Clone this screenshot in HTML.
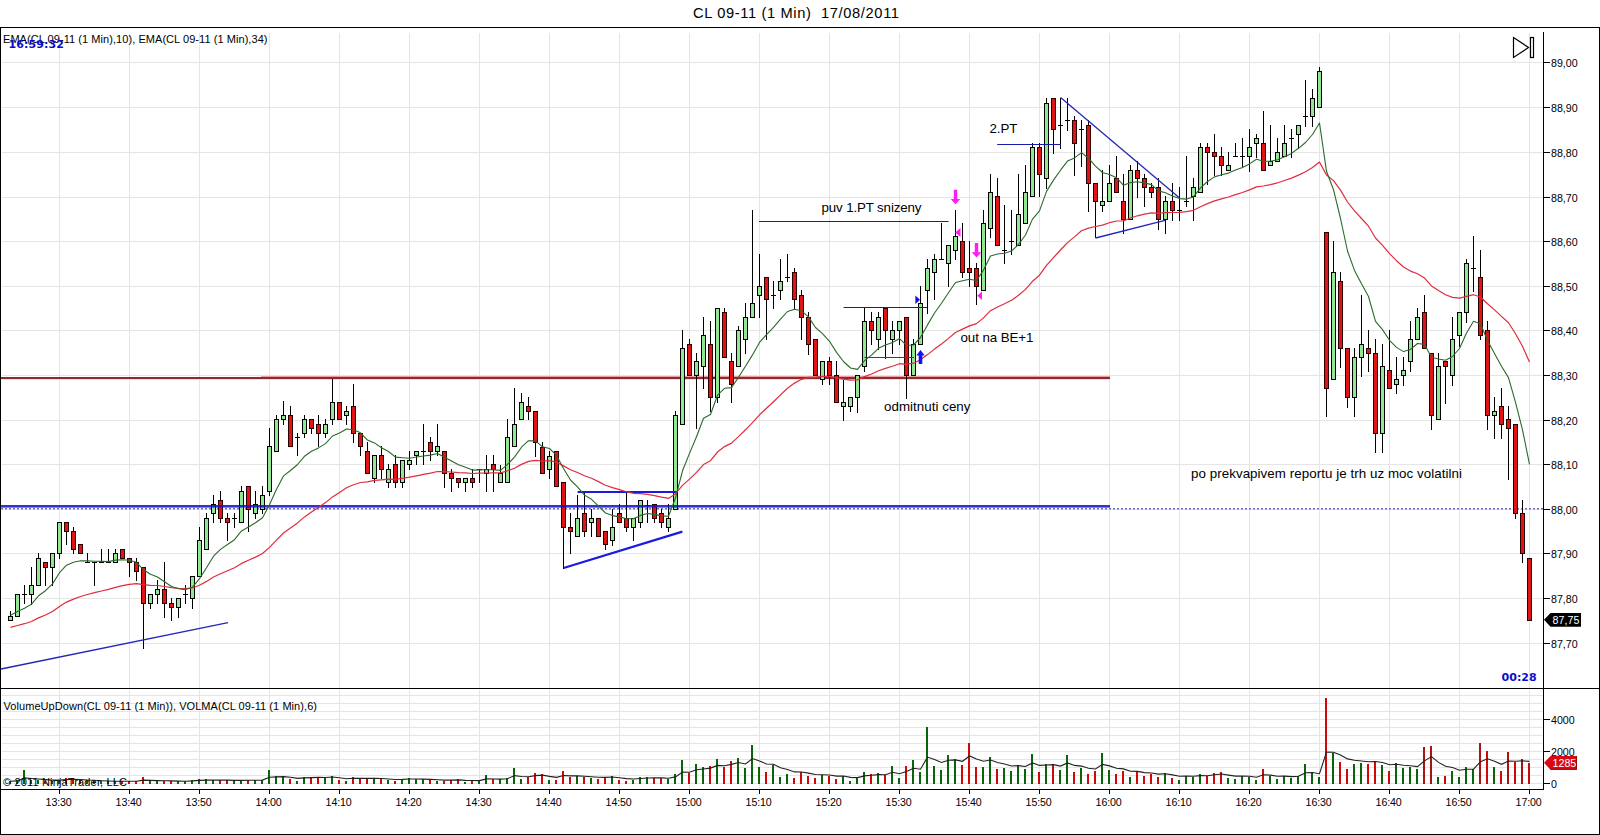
<!DOCTYPE html>
<html lang="cs"><head><meta charset="utf-8"><title>CL 09-11 (1 Min) 17/08/2011</title>
<style>
html,body{margin:0;padding:0;background:#fff;}
body{width:1600px;height:835px;overflow:hidden;}
svg{display:block;}
text{font-family:"Liberation Sans", Arial, sans-serif;fill:#000;}
.ax{font-size:10.67px;}
.lb{font-size:11px;}
.an{font-size:13.33px;}
.clk{font-family:"DejaVu Sans","Liberation Sans",sans-serif;font-weight:bold;font-size:11px;fill:#0b0bd0;}
.g{stroke:#e5e5e5;stroke-width:1;}
.cr{shape-rendering:crispEdges;}
</style></head><body>
<svg width="1600" height="835" viewBox="0 0 1600 835">
<rect x="0" y="0" width="1600" height="835" fill="#fff"/>

<text x="693" y="18.4" textLength="206" style="font-size:14.67px" xml:space="preserve">CL 09-11 (1 Min)  17/08/2011</text>
<g class="g cr">
<line x1="2" x2="1543.5" y1="62.5" y2="62.5"/>
<line x1="2" x2="1543.5" y1="107.5" y2="107.5"/>
<line x1="2" x2="1543.5" y1="152.5" y2="152.5"/>
<line x1="2" x2="1543.5" y1="197.5" y2="197.5"/>
<line x1="2" x2="1543.5" y1="241.5" y2="241.5"/>
<line x1="2" x2="1543.5" y1="286.5" y2="286.5"/>
<line x1="2" x2="1543.5" y1="330.5" y2="330.5"/>
<line x1="2" x2="1543.5" y1="375.5" y2="375.5"/>
<line x1="2" x2="1543.5" y1="420.5" y2="420.5"/>
<line x1="2" x2="1543.5" y1="464.5" y2="464.5"/>
<line x1="2" x2="1543.5" y1="509.5" y2="509.5"/>
<line x1="2" x2="1543.5" y1="553.5" y2="553.5"/>
<line x1="2" x2="1543.5" y1="598.5" y2="598.5"/>
<line x1="2" x2="1543.5" y1="643.5" y2="643.5"/>
<line x1="59.5" x2="59.5" y1="33" y2="688"/>
<line x1="59.5" x2="59.5" y1="690" y2="789"/>
<line x1="129.5" x2="129.5" y1="33" y2="688"/>
<line x1="129.5" x2="129.5" y1="690" y2="789"/>
<line x1="199.5" x2="199.5" y1="33" y2="688"/>
<line x1="199.5" x2="199.5" y1="690" y2="789"/>
<line x1="269.5" x2="269.5" y1="33" y2="688"/>
<line x1="269.5" x2="269.5" y1="690" y2="789"/>
<line x1="339.5" x2="339.5" y1="33" y2="688"/>
<line x1="339.5" x2="339.5" y1="690" y2="789"/>
<line x1="409.5" x2="409.5" y1="33" y2="688"/>
<line x1="409.5" x2="409.5" y1="690" y2="789"/>
<line x1="479.5" x2="479.5" y1="33" y2="688"/>
<line x1="479.5" x2="479.5" y1="690" y2="789"/>
<line x1="549.5" x2="549.5" y1="33" y2="688"/>
<line x1="549.5" x2="549.5" y1="690" y2="789"/>
<line x1="619.5" x2="619.5" y1="33" y2="688"/>
<line x1="619.5" x2="619.5" y1="690" y2="789"/>
<line x1="689.5" x2="689.5" y1="33" y2="688"/>
<line x1="689.5" x2="689.5" y1="690" y2="789"/>
<line x1="759.5" x2="759.5" y1="33" y2="688"/>
<line x1="759.5" x2="759.5" y1="690" y2="789"/>
<line x1="829.5" x2="829.5" y1="33" y2="688"/>
<line x1="829.5" x2="829.5" y1="690" y2="789"/>
<line x1="899.5" x2="899.5" y1="33" y2="688"/>
<line x1="899.5" x2="899.5" y1="690" y2="789"/>
<line x1="969.5" x2="969.5" y1="33" y2="688"/>
<line x1="969.5" x2="969.5" y1="690" y2="789"/>
<line x1="1039.5" x2="1039.5" y1="33" y2="688"/>
<line x1="1039.5" x2="1039.5" y1="690" y2="789"/>
<line x1="1109.5" x2="1109.5" y1="33" y2="688"/>
<line x1="1109.5" x2="1109.5" y1="690" y2="789"/>
<line x1="1179.5" x2="1179.5" y1="33" y2="688"/>
<line x1="1179.5" x2="1179.5" y1="690" y2="789"/>
<line x1="1249.5" x2="1249.5" y1="33" y2="688"/>
<line x1="1249.5" x2="1249.5" y1="690" y2="789"/>
<line x1="1319.5" x2="1319.5" y1="33" y2="688"/>
<line x1="1319.5" x2="1319.5" y1="690" y2="789"/>
<line x1="1389.5" x2="1389.5" y1="33" y2="688"/>
<line x1="1389.5" x2="1389.5" y1="690" y2="789"/>
<line x1="1459.5" x2="1459.5" y1="33" y2="688"/>
<line x1="1459.5" x2="1459.5" y1="690" y2="789"/>
<line x1="1529.5" x2="1529.5" y1="33" y2="688"/>
<line x1="1529.5" x2="1529.5" y1="690" y2="789"/>
<line x1="2" x2="1543.5" y1="783.5" y2="783.5"/>
<line x1="2" x2="1543.5" y1="775.5" y2="775.5"/>
<line x1="2" x2="1543.5" y1="767.5" y2="767.5"/>
<line x1="2" x2="1543.5" y1="759.5" y2="759.5"/>
<line x1="2" x2="1543.5" y1="751.5" y2="751.5"/>
<line x1="2" x2="1543.5" y1="743.5" y2="743.5"/>
<line x1="2" x2="1543.5" y1="735.5" y2="735.5"/>
<line x1="2" x2="1543.5" y1="727.5" y2="727.5"/>
<line x1="2" x2="1543.5" y1="719.5" y2="719.5"/>
<line x1="2" x2="1543.5" y1="711.5" y2="711.5"/>
<line x1="2" x2="1543.5" y1="703.5" y2="703.5"/>
<line x1="2" x2="1543.5" y1="695.5" y2="695.5"/>
</g>
<line x1="1" x2="1543.5" y1="508.75" y2="508.75" stroke="#6c6cc4" stroke-width="1.5" stroke-dasharray="2 2"/>
<g class="cr">
<rect x="1" y="377" width="1109" height="2" fill="#8c2a34"/>
<rect x="261" y="376" width="849" height="1" fill="#eaa0a0"/>
<rect x="1" y="379" width="1109" height="1" fill="#f3d6d6"/>
</g>
<text x="3" y="43" class="lb" textLength="264.5">EMA(CL 09-11 (1 Min),10), EMA(CL 09-11 (1 Min),34)</text>
<text x="8.5" y="47.5" class="clk" textLength="55.5">16:59:32</text>
<text x="1501.5" y="680.5" class="clk" textLength="35.2">00:28</text>
<g class="cr" stroke="#000" stroke-width="1">
<line x1="10.5" x2="10.5" y1="611" y2="616.5"/>
<rect x="8.5" y="616.5" width="4" height="4.0" fill="#92e892"/>
<rect x="15.5" y="594.5" width="4" height="22.0" fill="#92e892"/>
<line x1="24.5" x2="24.5" y1="585" y2="604"/>
<line x1="22.0" x2="27.0" y1="594.5" y2="594.5"/>
<line x1="31.5" x2="31.5" y1="567" y2="585.5"/>
<line x1="31.5" x2="31.5" y1="594.5" y2="605"/>
<rect x="29.5" y="585.5" width="4" height="9.0" fill="#92e892"/>
<line x1="38.5" x2="38.5" y1="553" y2="558.5"/>
<rect x="36.5" y="558.5" width="4" height="27.0" fill="#92e892"/>
<line x1="45.5" x2="45.5" y1="567.5" y2="586"/>
<rect x="43.5" y="562.5" width="4" height="5.0" fill="#e01414" stroke="#2a0000"/>
<line x1="52.5" x2="52.5" y1="567.5" y2="586"/>
<rect x="50.5" y="553.5" width="4" height="14.0" fill="#92e892"/>
<line x1="59.5" x2="59.5" y1="553.5" y2="559"/>
<rect x="57.5" y="522.5" width="4" height="31.0" fill="#92e892"/>
<line x1="66.5" x2="66.5" y1="531.5" y2="545"/>
<rect x="64.5" y="522.5" width="4" height="9.0" fill="#e01414" stroke="#2a0000"/>
<line x1="73.5" x2="73.5" y1="527" y2="531.5"/>
<line x1="73.5" x2="73.5" y1="549.5" y2="554"/>
<rect x="71.5" y="531.5" width="4" height="18.0" fill="#e01414" stroke="#2a0000"/>
<rect x="78.5" y="544.5" width="4" height="9.0" fill="#e01414" stroke="#2a0000"/>
<line x1="87.5" x2="87.5" y1="553" y2="563"/>
<line x1="85.0" x2="90.0" y1="562.5" y2="562.5"/>
<line x1="94.5" x2="94.5" y1="562" y2="586"/>
<line x1="92.0" x2="97.0" y1="562.5" y2="562.5"/>
<line x1="101.5" x2="101.5" y1="549" y2="563"/>
<line x1="99.0" x2="104.0" y1="562.5" y2="562.5"/>
<line x1="108.5" x2="108.5" y1="549" y2="563"/>
<line x1="106.0" x2="111.0" y1="562.5" y2="562.5"/>
<line x1="115.5" x2="115.5" y1="549" y2="553.5"/>
<rect x="113.5" y="553.5" width="4" height="9.0" fill="#92e892"/>
<rect x="120.5" y="549.5" width="4" height="9.0" fill="#e01414" stroke="#2a0000"/>
<line x1="129.5" x2="129.5" y1="562.5" y2="577"/>
<rect x="127.5" y="558.5" width="4" height="4.0" fill="#e01414" stroke="#2a0000"/>
<line x1="136.5" x2="136.5" y1="558" y2="562.5"/>
<line x1="136.5" x2="136.5" y1="571.5" y2="581"/>
<rect x="134.5" y="562.5" width="4" height="9.0" fill="#e01414" stroke="#2a0000"/>
<line x1="143.5" x2="143.5" y1="603.5" y2="649"/>
<rect x="141.5" y="567.5" width="4" height="36.0" fill="#e01414" stroke="#2a0000"/>
<line x1="150.5" x2="150.5" y1="603.5" y2="609"/>
<rect x="148.5" y="594.5" width="4" height="9.0" fill="#92e892"/>
<line x1="157.5" x2="157.5" y1="580" y2="589.5"/>
<line x1="157.5" x2="157.5" y1="594.5" y2="604"/>
<rect x="155.5" y="589.5" width="4" height="5.0" fill="#92e892"/>
<line x1="164.5" x2="164.5" y1="562" y2="589.5"/>
<line x1="164.5" x2="164.5" y1="603.5" y2="618"/>
<rect x="162.5" y="589.5" width="4" height="14.0" fill="#e01414" stroke="#2a0000"/>
<line x1="171.5" x2="171.5" y1="598" y2="603.5"/>
<line x1="171.5" x2="171.5" y1="607.5" y2="621"/>
<rect x="169.5" y="603.5" width="4" height="4.0" fill="#e01414" stroke="#2a0000"/>
<line x1="178.5" x2="178.5" y1="607.5" y2="618"/>
<rect x="176.5" y="598.5" width="4" height="9.0" fill="#92e892"/>
<line x1="185.5" x2="185.5" y1="585" y2="604"/>
<line x1="183.0" x2="188.0" y1="594.5" y2="594.5"/>
<line x1="192.5" x2="192.5" y1="598.5" y2="609"/>
<rect x="190.5" y="576.5" width="4" height="22.0" fill="#92e892"/>
<line x1="199.5" x2="199.5" y1="527" y2="540.5"/>
<rect x="197.5" y="540.5" width="4" height="36.0" fill="#92e892"/>
<line x1="206.5" x2="206.5" y1="513" y2="518.5"/>
<rect x="204.5" y="518.5" width="4" height="31.0" fill="#92e892"/>
<line x1="213.5" x2="213.5" y1="495" y2="504.5"/>
<line x1="213.5" x2="213.5" y1="513.5" y2="523"/>
<rect x="211.5" y="504.5" width="4" height="9.0" fill="#92e892"/>
<line x1="220.5" x2="220.5" y1="491" y2="500.5"/>
<line x1="220.5" x2="220.5" y1="518.5" y2="523"/>
<rect x="218.5" y="500.5" width="4" height="18.0" fill="#e01414" stroke="#2a0000"/>
<line x1="227.5" x2="227.5" y1="513" y2="518.5"/>
<line x1="227.5" x2="227.5" y1="522.5" y2="541"/>
<rect x="225.5" y="518.5" width="4" height="4.0" fill="#e01414" stroke="#2a0000"/>
<line x1="234.5" x2="234.5" y1="513" y2="528"/>
<line x1="232.0" x2="237.0" y1="518.5" y2="518.5"/>
<line x1="241.5" x2="241.5" y1="486" y2="491.5"/>
<rect x="239.5" y="491.5" width="4" height="31.0" fill="#92e892"/>
<line x1="248.5" x2="248.5" y1="509.5" y2="532"/>
<rect x="246.5" y="486.5" width="4" height="23.0" fill="#e01414" stroke="#2a0000"/>
<line x1="255.5" x2="255.5" y1="491" y2="504.5"/>
<line x1="255.5" x2="255.5" y1="513.5" y2="519"/>
<rect x="253.5" y="504.5" width="4" height="9.0" fill="#92e892"/>
<line x1="262.5" x2="262.5" y1="486" y2="495.5"/>
<line x1="262.5" x2="262.5" y1="509.5" y2="514"/>
<rect x="260.5" y="495.5" width="4" height="14.0" fill="#92e892"/>
<line x1="269.5" x2="269.5" y1="428" y2="446.5"/>
<line x1="269.5" x2="269.5" y1="491.5" y2="496"/>
<rect x="267.5" y="446.5" width="4" height="45.0" fill="#92e892"/>
<line x1="276.5" x2="276.5" y1="415" y2="419.5"/>
<rect x="274.5" y="419.5" width="4" height="32.0" fill="#92e892"/>
<line x1="283.5" x2="283.5" y1="401" y2="415.5"/>
<line x1="283.5" x2="283.5" y1="419.5" y2="425"/>
<rect x="281.5" y="415.5" width="4" height="4.0" fill="#92e892"/>
<line x1="290.5" x2="290.5" y1="406" y2="415.5"/>
<rect x="288.5" y="415.5" width="4" height="31.0" fill="#e01414" stroke="#2a0000"/>
<line x1="297.5" x2="297.5" y1="433" y2="456"/>
<line x1="295.0" x2="300.0" y1="437.5" y2="437.5"/>
<line x1="304.5" x2="304.5" y1="415" y2="419.5"/>
<line x1="304.5" x2="304.5" y1="433.5" y2="438"/>
<rect x="302.5" y="419.5" width="4" height="14.0" fill="#92e892"/>
<line x1="311.5" x2="311.5" y1="428.5" y2="434"/>
<rect x="309.5" y="419.5" width="4" height="9.0" fill="#e01414" stroke="#2a0000"/>
<line x1="318.5" x2="318.5" y1="415" y2="424.5"/>
<line x1="318.5" x2="318.5" y1="433.5" y2="447"/>
<rect x="316.5" y="424.5" width="4" height="9.0" fill="#e01414" stroke="#2a0000"/>
<line x1="325.5" x2="325.5" y1="419" y2="424.5"/>
<line x1="325.5" x2="325.5" y1="433.5" y2="438"/>
<rect x="323.5" y="424.5" width="4" height="9.0" fill="#92e892"/>
<line x1="332.5" x2="332.5" y1="379" y2="402.5"/>
<line x1="332.5" x2="332.5" y1="419.5" y2="425"/>
<rect x="330.5" y="402.5" width="4" height="17.0" fill="#92e892"/>
<rect x="337.5" y="402.5" width="4" height="17.0" fill="#e01414" stroke="#2a0000"/>
<line x1="346.5" x2="346.5" y1="406" y2="411.5"/>
<line x1="346.5" x2="346.5" y1="415.5" y2="425"/>
<rect x="344.5" y="411.5" width="4" height="4.0" fill="#92e892"/>
<line x1="353.5" x2="353.5" y1="384" y2="406.5"/>
<line x1="353.5" x2="353.5" y1="433.5" y2="443"/>
<rect x="351.5" y="406.5" width="4" height="27.0" fill="#e01414" stroke="#2a0000"/>
<line x1="360.5" x2="360.5" y1="446.5" y2="456"/>
<rect x="358.5" y="433.5" width="4" height="13.0" fill="#e01414" stroke="#2a0000"/>
<line x1="367.5" x2="367.5" y1="442" y2="451.5"/>
<rect x="365.5" y="451.5" width="4" height="22.0" fill="#e01414" stroke="#2a0000"/>
<line x1="374.5" x2="374.5" y1="478.5" y2="483"/>
<rect x="372.5" y="455.5" width="4" height="23.0" fill="#92e892"/>
<line x1="381.5" x2="381.5" y1="446" y2="455.5"/>
<line x1="381.5" x2="381.5" y1="469.5" y2="479"/>
<rect x="379.5" y="455.5" width="4" height="14.0" fill="#e01414" stroke="#2a0000"/>
<line x1="388.5" x2="388.5" y1="464" y2="469.5"/>
<line x1="388.5" x2="388.5" y1="482.5" y2="488"/>
<rect x="386.5" y="469.5" width="4" height="13.0" fill="#92e892"/>
<line x1="395.5" x2="395.5" y1="455" y2="464.5"/>
<line x1="395.5" x2="395.5" y1="482.5" y2="488"/>
<rect x="393.5" y="464.5" width="4" height="18.0" fill="#e01414" stroke="#2a0000"/>
<line x1="402.5" x2="402.5" y1="482.5" y2="488"/>
<rect x="400.5" y="460.5" width="4" height="22.0" fill="#92e892"/>
<line x1="409.5" x2="409.5" y1="451" y2="460.5"/>
<line x1="409.5" x2="409.5" y1="464.5" y2="470"/>
<rect x="407.5" y="460.5" width="4" height="4.0" fill="#92e892"/>
<line x1="416.5" x2="416.5" y1="455.5" y2="465"/>
<rect x="414.5" y="451.5" width="4" height="4.0" fill="#92e892"/>
<line x1="423.5" x2="423.5" y1="424" y2="465"/>
<line x1="421.0" x2="426.0" y1="451.5" y2="451.5"/>
<line x1="430.5" x2="430.5" y1="437" y2="442.5"/>
<line x1="430.5" x2="430.5" y1="451.5" y2="461"/>
<rect x="428.5" y="442.5" width="4" height="9.0" fill="#e01414" stroke="#2a0000"/>
<line x1="437.5" x2="437.5" y1="424" y2="446.5"/>
<line x1="437.5" x2="437.5" y1="451.5" y2="456"/>
<rect x="435.5" y="446.5" width="4" height="5.0" fill="#92e892"/>
<line x1="444.5" x2="444.5" y1="473.5" y2="488"/>
<rect x="442.5" y="451.5" width="4" height="22.0" fill="#e01414" stroke="#2a0000"/>
<line x1="451.5" x2="451.5" y1="469" y2="473.5"/>
<line x1="451.5" x2="451.5" y1="478.5" y2="492"/>
<rect x="449.5" y="473.5" width="4" height="5.0" fill="#e01414" stroke="#2a0000"/>
<line x1="458.5" x2="458.5" y1="482.5" y2="488"/>
<rect x="456.5" y="478.5" width="4" height="4.0" fill="#e01414" stroke="#2a0000"/>
<line x1="465.5" x2="465.5" y1="482.5" y2="492"/>
<rect x="463.5" y="478.5" width="4" height="4.0" fill="#92e892"/>
<line x1="472.5" x2="472.5" y1="469" y2="478.5"/>
<line x1="472.5" x2="472.5" y1="482.5" y2="488"/>
<rect x="470.5" y="478.5" width="4" height="4.0" fill="#e01414" stroke="#2a0000"/>
<line x1="479.5" x2="479.5" y1="469" y2="483"/>
<line x1="477.0" x2="482.0" y1="469.5" y2="469.5"/>
<line x1="486.5" x2="486.5" y1="455" y2="469.5"/>
<line x1="486.5" x2="486.5" y1="473.5" y2="492"/>
<rect x="484.5" y="469.5" width="4" height="4.0" fill="#92e892"/>
<line x1="493.5" x2="493.5" y1="455" y2="464.5"/>
<line x1="493.5" x2="493.5" y1="469.5" y2="492"/>
<rect x="491.5" y="464.5" width="4" height="5.0" fill="#e01414" stroke="#2a0000"/>
<line x1="500.5" x2="500.5" y1="465" y2="473.5"/>
<rect x="498.5" y="473.5" width="4" height="9.0" fill="#92e892"/>
<line x1="507.5" x2="507.5" y1="419" y2="437.5"/>
<rect x="505.5" y="437.5" width="4" height="45.0" fill="#92e892"/>
<line x1="514.5" x2="514.5" y1="388" y2="424.5"/>
<rect x="512.5" y="424.5" width="4" height="22.0" fill="#92e892"/>
<line x1="521.5" x2="521.5" y1="393" y2="402.5"/>
<rect x="519.5" y="402.5" width="4" height="17.0" fill="#92e892"/>
<line x1="528.5" x2="528.5" y1="397" y2="406.5"/>
<line x1="528.5" x2="528.5" y1="411.5" y2="420"/>
<rect x="526.5" y="406.5" width="4" height="5.0" fill="#e01414" stroke="#2a0000"/>
<line x1="535.5" x2="535.5" y1="442.5" y2="457"/>
<rect x="533.5" y="411.5" width="4" height="31.0" fill="#e01414" stroke="#2a0000"/>
<line x1="542.5" x2="542.5" y1="442" y2="447.5"/>
<rect x="540.5" y="447.5" width="4" height="26.0" fill="#e01414" stroke="#2a0000"/>
<line x1="549.5" x2="549.5" y1="451" y2="456.5"/>
<line x1="549.5" x2="549.5" y1="469.5" y2="479"/>
<rect x="547.5" y="456.5" width="4" height="13.0" fill="#92e892"/>
<rect x="554.5" y="451.5" width="4" height="35.0" fill="#e01414" stroke="#2a0000"/>
<line x1="563.5" x2="563.5" y1="527.5" y2="569"/>
<rect x="561.5" y="482.5" width="4" height="45.0" fill="#e01414" stroke="#2a0000"/>
<line x1="570.5" x2="570.5" y1="513" y2="527.5"/>
<line x1="570.5" x2="570.5" y1="531.5" y2="554"/>
<rect x="568.5" y="527.5" width="4" height="4.0" fill="#e01414" stroke="#2a0000"/>
<line x1="577.5" x2="577.5" y1="495" y2="518.5"/>
<rect x="575.5" y="518.5" width="4" height="18.0" fill="#92e892"/>
<line x1="584.5" x2="584.5" y1="491" y2="513.5"/>
<line x1="584.5" x2="584.5" y1="531.5" y2="537"/>
<rect x="582.5" y="513.5" width="4" height="18.0" fill="#e01414" stroke="#2a0000"/>
<line x1="591.5" x2="591.5" y1="509" y2="518.5"/>
<line x1="591.5" x2="591.5" y1="522.5" y2="537"/>
<rect x="589.5" y="518.5" width="4" height="4.0" fill="#92e892"/>
<rect x="596.5" y="518.5" width="4" height="18.0" fill="#e01414" stroke="#2a0000"/>
<line x1="605.5" x2="605.5" y1="544.5" y2="550"/>
<rect x="603.5" y="531.5" width="4" height="13.0" fill="#e01414" stroke="#2a0000"/>
<line x1="612.5" x2="612.5" y1="509" y2="527.5"/>
<line x1="612.5" x2="612.5" y1="540.5" y2="546"/>
<rect x="610.5" y="527.5" width="4" height="13.0" fill="#92e892"/>
<line x1="619.5" x2="619.5" y1="504" y2="513.5"/>
<rect x="617.5" y="513.5" width="4" height="9.0" fill="#e01414" stroke="#2a0000"/>
<line x1="626.5" x2="626.5" y1="491" y2="518.5"/>
<line x1="626.5" x2="626.5" y1="527.5" y2="532"/>
<rect x="624.5" y="518.5" width="4" height="9.0" fill="#e01414" stroke="#2a0000"/>
<line x1="633.5" x2="633.5" y1="527.5" y2="541"/>
<rect x="631.5" y="518.5" width="4" height="9.0" fill="#92e892"/>
<line x1="640.5" x2="640.5" y1="522.5" y2="528"/>
<rect x="638.5" y="500.5" width="4" height="22.0" fill="#92e892"/>
<line x1="647.5" x2="647.5" y1="500" y2="523"/>
<line x1="645.0" x2="650.0" y1="505.5" y2="505.5"/>
<line x1="654.5" x2="654.5" y1="518.5" y2="523"/>
<rect x="652.5" y="504.5" width="4" height="14.0" fill="#e01414" stroke="#2a0000"/>
<line x1="661.5" x2="661.5" y1="509" y2="513.5"/>
<line x1="661.5" x2="661.5" y1="522.5" y2="528"/>
<rect x="659.5" y="513.5" width="4" height="9.0" fill="#e01414" stroke="#2a0000"/>
<line x1="668.5" x2="668.5" y1="504" y2="518.5"/>
<line x1="668.5" x2="668.5" y1="527.5" y2="532"/>
<rect x="666.5" y="518.5" width="4" height="9.0" fill="#92e892"/>
<line x1="675.5" x2="675.5" y1="411" y2="415.5"/>
<rect x="673.5" y="415.5" width="4" height="94.0" fill="#92e892"/>
<line x1="682.5" x2="682.5" y1="330" y2="348.5"/>
<rect x="680.5" y="348.5" width="4" height="76.0" fill="#92e892"/>
<line x1="689.5" x2="689.5" y1="339" y2="344.5"/>
<rect x="687.5" y="344.5" width="4" height="31.0" fill="#e01414" stroke="#2a0000"/>
<line x1="696.5" x2="696.5" y1="353" y2="361.5"/>
<line x1="696.5" x2="696.5" y1="375.5" y2="429"/>
<rect x="694.5" y="361.5" width="4" height="14.0" fill="#92e892"/>
<line x1="703.5" x2="703.5" y1="317" y2="335.5"/>
<line x1="703.5" x2="703.5" y1="366.5" y2="389"/>
<rect x="701.5" y="335.5" width="4" height="31.0" fill="#92e892"/>
<line x1="710.5" x2="710.5" y1="321" y2="344.5"/>
<line x1="710.5" x2="710.5" y1="397.5" y2="412"/>
<rect x="708.5" y="344.5" width="4" height="53.0" fill="#e01414" stroke="#2a0000"/>
<line x1="717.5" x2="717.5" y1="397.5" y2="403"/>
<rect x="715.5" y="308.5" width="4" height="89.0" fill="#92e892"/>
<line x1="724.5" x2="724.5" y1="308" y2="312.5"/>
<rect x="722.5" y="312.5" width="4" height="45.0" fill="#e01414" stroke="#2a0000"/>
<line x1="731.5" x2="731.5" y1="353" y2="361.5"/>
<line x1="731.5" x2="731.5" y1="384.5" y2="403"/>
<rect x="729.5" y="361.5" width="4" height="23.0" fill="#e01414" stroke="#2a0000"/>
<line x1="738.5" x2="738.5" y1="326" y2="330.5"/>
<rect x="736.5" y="330.5" width="4" height="36.0" fill="#92e892"/>
<line x1="745.5" x2="745.5" y1="303" y2="317.5"/>
<line x1="745.5" x2="745.5" y1="339.5" y2="354"/>
<rect x="743.5" y="317.5" width="4" height="22.0" fill="#92e892"/>
<line x1="752.5" x2="752.5" y1="210" y2="303.5"/>
<rect x="750.5" y="303.5" width="4" height="14.0" fill="#92e892"/>
<line x1="759.5" x2="759.5" y1="254" y2="286.5"/>
<line x1="759.5" x2="759.5" y1="295.5" y2="318"/>
<rect x="757.5" y="286.5" width="4" height="9.0" fill="#92e892"/>
<line x1="766.5" x2="766.5" y1="299.5" y2="340"/>
<rect x="764.5" y="277.5" width="4" height="22.0" fill="#e01414" stroke="#2a0000"/>
<line x1="773.5" x2="773.5" y1="281" y2="309"/>
<line x1="771.0" x2="776.0" y1="295.5" y2="295.5"/>
<line x1="780.5" x2="780.5" y1="259" y2="281.5"/>
<line x1="780.5" x2="780.5" y1="290.5" y2="300"/>
<rect x="778.5" y="281.5" width="4" height="9.0" fill="#92e892"/>
<line x1="787.5" x2="787.5" y1="254" y2="282"/>
<line x1="785.0" x2="790.0" y1="277.5" y2="277.5"/>
<line x1="794.5" x2="794.5" y1="268" y2="272.5"/>
<line x1="794.5" x2="794.5" y1="299.5" y2="309"/>
<rect x="792.5" y="272.5" width="4" height="27.0" fill="#e01414" stroke="#2a0000"/>
<line x1="801.5" x2="801.5" y1="290" y2="295.5"/>
<line x1="801.5" x2="801.5" y1="317.5" y2="340"/>
<rect x="799.5" y="295.5" width="4" height="22.0" fill="#e01414" stroke="#2a0000"/>
<line x1="808.5" x2="808.5" y1="312" y2="317.5"/>
<line x1="808.5" x2="808.5" y1="344.5" y2="355"/>
<rect x="806.5" y="317.5" width="4" height="27.0" fill="#e01414" stroke="#2a0000"/>
<rect x="813.5" y="339.5" width="4" height="36.0" fill="#e01414" stroke="#2a0000"/>
<line x1="822.5" x2="822.5" y1="379.5" y2="385"/>
<rect x="820.5" y="361.5" width="4" height="18.0" fill="#92e892"/>
<line x1="829.5" x2="829.5" y1="357" y2="361.5"/>
<line x1="829.5" x2="829.5" y1="375.5" y2="385"/>
<rect x="827.5" y="361.5" width="4" height="14.0" fill="#e01414" stroke="#2a0000"/>
<line x1="836.5" x2="836.5" y1="361" y2="375.5"/>
<rect x="834.5" y="375.5" width="4" height="27.0" fill="#e01414" stroke="#2a0000"/>
<line x1="843.5" x2="843.5" y1="380" y2="402.5"/>
<line x1="843.5" x2="843.5" y1="406.5" y2="421"/>
<rect x="841.5" y="402.5" width="4" height="4.0" fill="#92e892"/>
<line x1="850.5" x2="850.5" y1="406.5" y2="412"/>
<rect x="848.5" y="397.5" width="4" height="9.0" fill="#92e892"/>
<line x1="857.5" x2="857.5" y1="397.5" y2="413"/>
<rect x="855.5" y="375.5" width="4" height="22.0" fill="#92e892"/>
<line x1="864.5" x2="864.5" y1="308" y2="321.5"/>
<line x1="864.5" x2="864.5" y1="366.5" y2="372"/>
<rect x="862.5" y="321.5" width="4" height="45.0" fill="#92e892"/>
<line x1="871.5" x2="871.5" y1="312" y2="321.5"/>
<line x1="871.5" x2="871.5" y1="330.5" y2="345"/>
<rect x="869.5" y="321.5" width="4" height="9.0" fill="#e01414" stroke="#2a0000"/>
<line x1="878.5" x2="878.5" y1="312" y2="317.5"/>
<line x1="878.5" x2="878.5" y1="339.5" y2="350"/>
<rect x="876.5" y="317.5" width="4" height="22.0" fill="#92e892"/>
<line x1="885.5" x2="885.5" y1="330.5" y2="359"/>
<rect x="883.5" y="308.5" width="4" height="22.0" fill="#e01414" stroke="#2a0000"/>
<line x1="892.5" x2="892.5" y1="321" y2="330.5"/>
<line x1="892.5" x2="892.5" y1="339.5" y2="354"/>
<rect x="890.5" y="330.5" width="4" height="9.0" fill="#92e892"/>
<line x1="899.5" x2="899.5" y1="330.5" y2="345"/>
<rect x="897.5" y="321.5" width="4" height="9.0" fill="#92e892"/>
<line x1="906.5" x2="906.5" y1="375.5" y2="399"/>
<rect x="904.5" y="317.5" width="4" height="58.0" fill="#e01414" stroke="#2a0000"/>
<line x1="913.5" x2="913.5" y1="339" y2="344.5"/>
<rect x="911.5" y="344.5" width="4" height="31.0" fill="#92e892"/>
<line x1="920.5" x2="920.5" y1="286" y2="303.5"/>
<rect x="918.5" y="303.5" width="4" height="41.0" fill="#92e892"/>
<line x1="927.5" x2="927.5" y1="259" y2="268.5"/>
<line x1="927.5" x2="927.5" y1="290.5" y2="314"/>
<rect x="925.5" y="268.5" width="4" height="22.0" fill="#92e892"/>
<line x1="934.5" x2="934.5" y1="254" y2="259.5"/>
<line x1="934.5" x2="934.5" y1="272.5" y2="300"/>
<rect x="932.5" y="259.5" width="4" height="13.0" fill="#92e892"/>
<line x1="941.5" x2="941.5" y1="223" y2="260"/>
<line x1="939.0" x2="944.0" y1="259.5" y2="259.5"/>
<line x1="948.5" x2="948.5" y1="263.5" y2="287"/>
<rect x="946.5" y="245.5" width="4" height="18.0" fill="#92e892"/>
<line x1="955.5" x2="955.5" y1="210" y2="236.5"/>
<line x1="955.5" x2="955.5" y1="250.5" y2="260"/>
<rect x="953.5" y="236.5" width="4" height="14.0" fill="#92e892"/>
<line x1="962.5" x2="962.5" y1="223" y2="241.5"/>
<line x1="962.5" x2="962.5" y1="272.5" y2="278"/>
<rect x="960.5" y="241.5" width="4" height="31.0" fill="#e01414" stroke="#2a0000"/>
<line x1="969.5" x2="969.5" y1="241" y2="268.5"/>
<line x1="969.5" x2="969.5" y1="272.5" y2="287"/>
<rect x="967.5" y="268.5" width="4" height="4.0" fill="#e01414" stroke="#2a0000"/>
<line x1="976.5" x2="976.5" y1="263" y2="268.5"/>
<line x1="976.5" x2="976.5" y1="286.5" y2="305"/>
<rect x="974.5" y="268.5" width="4" height="18.0" fill="#e01414" stroke="#2a0000"/>
<line x1="983.5" x2="983.5" y1="210" y2="223.5"/>
<rect x="981.5" y="223.5" width="4" height="67.0" fill="#92e892"/>
<line x1="990.5" x2="990.5" y1="174" y2="192.5"/>
<line x1="990.5" x2="990.5" y1="228.5" y2="238"/>
<rect x="988.5" y="192.5" width="4" height="36.0" fill="#92e892"/>
<line x1="997.5" x2="997.5" y1="178" y2="196.5"/>
<rect x="995.5" y="196.5" width="4" height="49.0" fill="#e01414" stroke="#2a0000"/>
<line x1="1004.5" x2="1004.5" y1="205" y2="264"/>
<line x1="1002.0" x2="1007.0" y1="250.5" y2="250.5"/>
<line x1="1011.5" x2="1011.5" y1="210" y2="255"/>
<line x1="1009.0" x2="1014.0" y1="241.5" y2="241.5"/>
<line x1="1018.5" x2="1018.5" y1="174" y2="214.5"/>
<rect x="1016.5" y="214.5" width="4" height="31.0" fill="#92e892"/>
<line x1="1025.5" x2="1025.5" y1="165" y2="192.5"/>
<rect x="1023.5" y="192.5" width="4" height="31.0" fill="#92e892"/>
<line x1="1032.5" x2="1032.5" y1="143" y2="147.5"/>
<rect x="1030.5" y="147.5" width="4" height="49.0" fill="#92e892"/>
<line x1="1039.5" x2="1039.5" y1="143" y2="147.5"/>
<line x1="1039.5" x2="1039.5" y1="174.5" y2="197"/>
<rect x="1037.5" y="147.5" width="4" height="27.0" fill="#e01414" stroke="#2a0000"/>
<line x1="1046.5" x2="1046.5" y1="98" y2="103.5"/>
<line x1="1046.5" x2="1046.5" y1="178.5" y2="189"/>
<rect x="1044.5" y="103.5" width="4" height="75.0" fill="#92e892"/>
<line x1="1053.5" x2="1053.5" y1="129.5" y2="154"/>
<rect x="1051.5" y="98.5" width="4" height="31.0" fill="#e01414" stroke="#2a0000"/>
<line x1="1060.5" x2="1060.5" y1="98" y2="149"/>
<line x1="1058.0" x2="1063.0" y1="125.5" y2="125.5"/>
<line x1="1067.5" x2="1067.5" y1="98" y2="131"/>
<line x1="1065.0" x2="1070.0" y1="120.5" y2="120.5"/>
<line x1="1074.5" x2="1074.5" y1="116" y2="120.5"/>
<line x1="1074.5" x2="1074.5" y1="143.5" y2="176"/>
<rect x="1072.5" y="120.5" width="4" height="23.0" fill="#e01414" stroke="#2a0000"/>
<line x1="1081.5" x2="1081.5" y1="120" y2="167"/>
<line x1="1079.0" x2="1084.0" y1="129.5" y2="129.5"/>
<line x1="1088.5" x2="1088.5" y1="120" y2="125.5"/>
<line x1="1088.5" x2="1088.5" y1="183.5" y2="212"/>
<rect x="1086.5" y="125.5" width="4" height="58.0" fill="#e01414" stroke="#2a0000"/>
<line x1="1095.5" x2="1095.5" y1="201.5" y2="238"/>
<rect x="1093.5" y="183.5" width="4" height="18.0" fill="#e01414" stroke="#2a0000"/>
<line x1="1102.5" x2="1102.5" y1="170" y2="201.5"/>
<line x1="1102.5" x2="1102.5" y1="205.5" y2="212"/>
<rect x="1100.5" y="201.5" width="4" height="4.0" fill="#92e892"/>
<line x1="1109.5" x2="1109.5" y1="165" y2="183.5"/>
<rect x="1107.5" y="183.5" width="4" height="18.0" fill="#92e892"/>
<line x1="1116.5" x2="1116.5" y1="156" y2="178.5"/>
<rect x="1114.5" y="178.5" width="4" height="14.0" fill="#e01414" stroke="#2a0000"/>
<line x1="1123.5" x2="1123.5" y1="174" y2="201.5"/>
<line x1="1123.5" x2="1123.5" y1="219.5" y2="234"/>
<rect x="1121.5" y="201.5" width="4" height="18.0" fill="#e01414" stroke="#2a0000"/>
<line x1="1130.5" x2="1130.5" y1="165" y2="170.5"/>
<rect x="1128.5" y="170.5" width="4" height="49.0" fill="#92e892"/>
<line x1="1137.5" x2="1137.5" y1="161" y2="170.5"/>
<line x1="1137.5" x2="1137.5" y1="178.5" y2="198"/>
<rect x="1135.5" y="170.5" width="4" height="8.0" fill="#e01414" stroke="#2a0000"/>
<line x1="1144.5" x2="1144.5" y1="174" y2="178.5"/>
<line x1="1144.5" x2="1144.5" y1="187.5" y2="207"/>
<rect x="1142.5" y="178.5" width="4" height="9.0" fill="#e01414" stroke="#2a0000"/>
<line x1="1151.5" x2="1151.5" y1="183" y2="187.5"/>
<line x1="1151.5" x2="1151.5" y1="192.5" y2="198"/>
<rect x="1149.5" y="187.5" width="4" height="5.0" fill="#e01414" stroke="#2a0000"/>
<line x1="1158.5" x2="1158.5" y1="178" y2="187.5"/>
<line x1="1158.5" x2="1158.5" y1="219.5" y2="230"/>
<rect x="1156.5" y="187.5" width="4" height="32.0" fill="#e01414" stroke="#2a0000"/>
<line x1="1165.5" x2="1165.5" y1="196" y2="201.5"/>
<line x1="1165.5" x2="1165.5" y1="219.5" y2="234"/>
<rect x="1163.5" y="201.5" width="4" height="18.0" fill="#92e892"/>
<line x1="1172.5" x2="1172.5" y1="183" y2="201.5"/>
<line x1="1172.5" x2="1172.5" y1="210.5" y2="221"/>
<rect x="1170.5" y="201.5" width="4" height="9.0" fill="#e01414" stroke="#2a0000"/>
<line x1="1179.5" x2="1179.5" y1="187" y2="221"/>
<line x1="1177.0" x2="1182.0" y1="210.5" y2="210.5"/>
<line x1="1186.5" x2="1186.5" y1="156" y2="207"/>
<line x1="1184.0" x2="1189.0" y1="201.5" y2="201.5"/>
<line x1="1193.5" x2="1193.5" y1="178" y2="187.5"/>
<line x1="1193.5" x2="1193.5" y1="196.5" y2="221"/>
<rect x="1191.5" y="187.5" width="4" height="9.0" fill="#92e892"/>
<line x1="1200.5" x2="1200.5" y1="143" y2="147.5"/>
<rect x="1198.5" y="147.5" width="4" height="45.0" fill="#92e892"/>
<line x1="1207.5" x2="1207.5" y1="143" y2="147.5"/>
<line x1="1207.5" x2="1207.5" y1="152.5" y2="185"/>
<rect x="1205.5" y="147.5" width="4" height="5.0" fill="#e01414" stroke="#2a0000"/>
<line x1="1214.5" x2="1214.5" y1="134" y2="152.5"/>
<line x1="1214.5" x2="1214.5" y1="156.5" y2="176"/>
<rect x="1212.5" y="152.5" width="4" height="4.0" fill="#e01414" stroke="#2a0000"/>
<line x1="1221.5" x2="1221.5" y1="147" y2="156.5"/>
<line x1="1221.5" x2="1221.5" y1="165.5" y2="176"/>
<rect x="1219.5" y="156.5" width="4" height="9.0" fill="#e01414" stroke="#2a0000"/>
<line x1="1228.5" x2="1228.5" y1="152" y2="165.5"/>
<rect x="1226.5" y="165.5" width="4" height="5.0" fill="#92e892"/>
<line x1="1235.5" x2="1235.5" y1="143" y2="157"/>
<line x1="1233.0" x2="1238.0" y1="156.5" y2="156.5"/>
<line x1="1242.5" x2="1242.5" y1="138" y2="167"/>
<line x1="1240.0" x2="1245.0" y1="156.5" y2="156.5"/>
<line x1="1249.5" x2="1249.5" y1="129" y2="147.5"/>
<line x1="1249.5" x2="1249.5" y1="156.5" y2="172"/>
<rect x="1247.5" y="147.5" width="4" height="9.0" fill="#92e892"/>
<line x1="1256.5" x2="1256.5" y1="134" y2="138.5"/>
<line x1="1256.5" x2="1256.5" y1="143.5" y2="158"/>
<rect x="1254.5" y="138.5" width="4" height="5.0" fill="#92e892"/>
<line x1="1263.5" x2="1263.5" y1="111" y2="143.5"/>
<rect x="1261.5" y="143.5" width="4" height="27.0" fill="#e01414" stroke="#2a0000"/>
<line x1="1270.5" x2="1270.5" y1="125" y2="161.5"/>
<rect x="1268.5" y="161.5" width="4" height="4.0" fill="#92e892"/>
<line x1="1277.5" x2="1277.5" y1="138" y2="152.5"/>
<rect x="1275.5" y="152.5" width="4" height="9.0" fill="#92e892"/>
<line x1="1284.5" x2="1284.5" y1="125" y2="143.5"/>
<rect x="1282.5" y="143.5" width="4" height="13.0" fill="#92e892"/>
<line x1="1291.5" x2="1291.5" y1="129" y2="158"/>
<line x1="1289.0" x2="1294.0" y1="138.5" y2="138.5"/>
<line x1="1298.5" x2="1298.5" y1="134.5" y2="149"/>
<rect x="1296.5" y="125.5" width="4" height="9.0" fill="#92e892"/>
<line x1="1305.5" x2="1305.5" y1="80" y2="127"/>
<line x1="1303.0" x2="1308.0" y1="116.5" y2="116.5"/>
<line x1="1312.5" x2="1312.5" y1="89" y2="98.5"/>
<line x1="1312.5" x2="1312.5" y1="116.5" y2="127"/>
<rect x="1310.5" y="98.5" width="4" height="18.0" fill="#92e892"/>
<line x1="1319.5" x2="1319.5" y1="67" y2="71.5"/>
<rect x="1317.5" y="71.5" width="4" height="36.0" fill="#92e892"/>
<line x1="1326.5" x2="1326.5" y1="388.5" y2="417"/>
<rect x="1324.5" y="232.5" width="4" height="156.0" fill="#e01414" stroke="#2a0000"/>
<line x1="1333.5" x2="1333.5" y1="241" y2="272.5"/>
<rect x="1331.5" y="272.5" width="4" height="107.0" fill="#92e892"/>
<line x1="1340.5" x2="1340.5" y1="272" y2="281.5"/>
<line x1="1340.5" x2="1340.5" y1="348.5" y2="368"/>
<rect x="1338.5" y="281.5" width="4" height="67.0" fill="#e01414" stroke="#2a0000"/>
<line x1="1347.5" x2="1347.5" y1="397.5" y2="408"/>
<rect x="1345.5" y="348.5" width="4" height="49.0" fill="#e01414" stroke="#2a0000"/>
<line x1="1354.5" x2="1354.5" y1="348" y2="357.5"/>
<line x1="1354.5" x2="1354.5" y1="397.5" y2="417"/>
<rect x="1352.5" y="357.5" width="4" height="40.0" fill="#92e892"/>
<line x1="1361.5" x2="1361.5" y1="295" y2="344.5"/>
<line x1="1361.5" x2="1361.5" y1="357.5" y2="377"/>
<rect x="1359.5" y="344.5" width="4" height="13.0" fill="#92e892"/>
<line x1="1368.5" x2="1368.5" y1="330" y2="348.5"/>
<line x1="1368.5" x2="1368.5" y1="353.5" y2="372"/>
<rect x="1366.5" y="348.5" width="4" height="5.0" fill="#e01414" stroke="#2a0000"/>
<line x1="1375.5" x2="1375.5" y1="339" y2="353.5"/>
<line x1="1375.5" x2="1375.5" y1="433.5" y2="453"/>
<rect x="1373.5" y="353.5" width="4" height="80.0" fill="#e01414" stroke="#2a0000"/>
<line x1="1382.5" x2="1382.5" y1="344" y2="366.5"/>
<line x1="1382.5" x2="1382.5" y1="433.5" y2="453"/>
<rect x="1380.5" y="366.5" width="4" height="67.0" fill="#92e892"/>
<line x1="1389.5" x2="1389.5" y1="330" y2="370.5"/>
<rect x="1387.5" y="370.5" width="4" height="18.0" fill="#e01414" stroke="#2a0000"/>
<line x1="1396.5" x2="1396.5" y1="357" y2="379.5"/>
<line x1="1396.5" x2="1396.5" y1="384.5" y2="394"/>
<rect x="1394.5" y="379.5" width="4" height="5.0" fill="#92e892"/>
<line x1="1403.5" x2="1403.5" y1="357" y2="370.5"/>
<line x1="1403.5" x2="1403.5" y1="375.5" y2="386"/>
<rect x="1401.5" y="370.5" width="4" height="5.0" fill="#92e892"/>
<line x1="1410.5" x2="1410.5" y1="321" y2="339.5"/>
<line x1="1410.5" x2="1410.5" y1="361.5" y2="372"/>
<rect x="1408.5" y="339.5" width="4" height="22.0" fill="#92e892"/>
<line x1="1417.5" x2="1417.5" y1="308" y2="317.5"/>
<rect x="1415.5" y="317.5" width="4" height="22.0" fill="#92e892"/>
<line x1="1424.5" x2="1424.5" y1="295" y2="312.5"/>
<rect x="1422.5" y="312.5" width="4" height="36.0" fill="#e01414" stroke="#2a0000"/>
<line x1="1431.5" x2="1431.5" y1="415.5" y2="430"/>
<rect x="1429.5" y="353.5" width="4" height="62.0" fill="#e01414" stroke="#2a0000"/>
<line x1="1438.5" x2="1438.5" y1="353" y2="366.5"/>
<rect x="1436.5" y="366.5" width="4" height="53.0" fill="#92e892"/>
<line x1="1445.5" x2="1445.5" y1="366.5" y2="404"/>
<rect x="1443.5" y="361.5" width="4" height="5.0" fill="#e01414" stroke="#2a0000"/>
<line x1="1452.5" x2="1452.5" y1="317" y2="339.5"/>
<line x1="1452.5" x2="1452.5" y1="375.5" y2="386"/>
<rect x="1450.5" y="339.5" width="4" height="36.0" fill="#92e892"/>
<line x1="1459.5" x2="1459.5" y1="335.5" y2="347"/>
<rect x="1457.5" y="312.5" width="4" height="23.0" fill="#92e892"/>
<line x1="1466.5" x2="1466.5" y1="259" y2="263.5"/>
<line x1="1466.5" x2="1466.5" y1="312.5" y2="323"/>
<rect x="1464.5" y="263.5" width="4" height="49.0" fill="#92e892"/>
<line x1="1473.5" x2="1473.5" y1="236" y2="292"/>
<line x1="1471.0" x2="1476.0" y1="268.5" y2="268.5"/>
<line x1="1480.5" x2="1480.5" y1="250" y2="277.5"/>
<line x1="1480.5" x2="1480.5" y1="335.5" y2="340"/>
<rect x="1478.5" y="277.5" width="4" height="58.0" fill="#e01414" stroke="#2a0000"/>
<line x1="1487.5" x2="1487.5" y1="321" y2="330.5"/>
<line x1="1487.5" x2="1487.5" y1="415.5" y2="430"/>
<rect x="1485.5" y="330.5" width="4" height="85.0" fill="#e01414" stroke="#2a0000"/>
<line x1="1494.5" x2="1494.5" y1="397" y2="411.5"/>
<line x1="1494.5" x2="1494.5" y1="415.5" y2="439"/>
<rect x="1492.5" y="411.5" width="4" height="4.0" fill="#92e892"/>
<line x1="1501.5" x2="1501.5" y1="388" y2="406.5"/>
<line x1="1501.5" x2="1501.5" y1="424.5" y2="439"/>
<rect x="1499.5" y="406.5" width="4" height="18.0" fill="#e01414" stroke="#2a0000"/>
<line x1="1508.5" x2="1508.5" y1="406" y2="419.5"/>
<line x1="1508.5" x2="1508.5" y1="428.5" y2="480"/>
<rect x="1506.5" y="419.5" width="4" height="9.0" fill="#e01414" stroke="#2a0000"/>
<line x1="1515.5" x2="1515.5" y1="513.5" y2="519"/>
<rect x="1513.5" y="424.5" width="4" height="89.0" fill="#e01414" stroke="#2a0000"/>
<line x1="1522.5" x2="1522.5" y1="500" y2="513.5"/>
<line x1="1522.5" x2="1522.5" y1="553.5" y2="563"/>
<rect x="1520.5" y="513.5" width="4" height="40.0" fill="#e01414" stroke="#2a0000"/>
<rect x="1527.5" y="558.5" width="4" height="62.0" fill="#e01414" stroke="#2a0000"/>
</g>
<g class="cr" opacity="0.86"><rect x="1" y="505" width="1109" height="2" fill="#1010d0"/><rect x="1" y="507" width="1109" height="1" fill="#1010d0" opacity="0.6"/></g>
<line x1="1" y1="669" x2="228" y2="622.6" stroke="#2626b8" stroke-width="1.3"/>
<line x1="577.6" y1="492" x2="677" y2="492" stroke="#1a1ae0" stroke-width="2.2"/>
<line x1="563.6" y1="568" x2="682.4" y2="531.6" stroke="#1a1ae0" stroke-width="2.2"/>
<line x1="759" y1="221.5" x2="948.6" y2="221.5" stroke="#1a1aa8" stroke-width="1.2"/>
<line x1="843.6" y1="307.5" x2="927.4" y2="307.5" stroke="#1a1aa8" stroke-width="1.2"/>
<line x1="864.4" y1="357.5" x2="914" y2="357.5" stroke="#2a2aff" stroke-width="1.2"/>
<line x1="997.2" y1="144.5" x2="1060.6" y2="144.5" stroke="#1a1aa8" stroke-width="1.2"/>
<line x1="1060.6" y1="97.6" x2="1179" y2="197.6" stroke="#2626b8" stroke-width="1.3"/>
<line x1="1095.6" y1="238" x2="1165" y2="220.4" stroke="#2626b8" stroke-width="1.3"/>
<polyline points="10.5,627.4 17.5,625.5 24.5,623.7 31.5,621.5 38.5,617.9 45.5,615.0 52.5,611.5 59.5,606.4 66.5,602.1 73.5,599.1 80.5,596.5 87.5,594.5 94.5,592.7 101.5,591.0 108.5,589.3 115.5,587.3 122.5,585.6 129.5,584.3 136.5,583.6 143.5,584.7 150.5,585.3 157.5,585.5 164.5,586.5 171.5,587.7 178.5,588.3 185.5,588.7 192.5,588.0 199.5,585.2 206.5,581.4 213.5,577.0 220.5,573.7 227.5,570.7 234.5,567.8 241.5,563.4 248.5,560.3 255.5,557.1 262.5,553.5 269.5,547.4 276.5,540.1 283.5,533.0 290.5,528.0 297.5,522.9 304.5,516.9 311.5,511.9 318.5,507.4 325.5,502.6 332.5,496.9 339.5,492.4 346.5,487.8 353.5,484.7 360.5,482.5 367.5,481.9 374.5,480.4 381.5,479.8 388.5,479.2 395.5,479.3 402.5,478.3 409.5,477.2 416.5,475.8 423.5,474.4 430.5,473.1 437.5,471.5 444.5,471.6 451.5,472.0 458.5,472.6 465.5,472.9 472.5,473.5 479.5,473.2 486.5,473.0 493.5,472.8 500.5,472.8 507.5,470.8 514.5,468.2 521.5,464.4 528.5,461.4 535.5,460.3 542.5,461.0 549.5,460.7 556.5,462.2 563.5,465.9 570.5,469.7 577.5,472.5 584.5,475.8 591.5,478.3 598.5,481.6 605.5,485.2 612.5,487.6 619.5,489.6 626.5,491.7 633.5,493.3 640.5,493.7 647.5,494.3 654.5,495.7 661.5,497.2 668.5,498.4 675.5,493.7 682.5,485.4 689.5,479.1 696.5,472.4 703.5,464.6 710.5,460.7 717.5,452.0 724.5,446.6 731.5,443.1 738.5,436.6 745.5,429.8 752.5,422.6 759.5,414.8 766.5,408.2 773.5,401.7 780.5,394.9 787.5,388.2 794.5,383.1 801.5,379.3 808.5,377.3 815.5,377.2 822.5,376.3 829.5,376.3 836.5,377.8 843.5,379.2 850.5,380.2 857.5,379.9 864.5,376.6 871.5,374.0 878.5,370.7 885.5,368.4 892.5,366.2 899.5,363.7 906.5,364.4 913.5,363.2 920.5,359.8 927.5,354.6 934.5,349.1 941.5,344.0 948.5,338.4 955.5,332.5 962.5,329.1 969.5,325.9 976.5,323.6 983.5,317.9 990.5,310.7 997.5,307.0 1004.5,303.7 1011.5,300.2 1018.5,295.3 1025.5,289.4 1032.5,281.3 1039.5,275.2 1046.5,265.3 1053.5,257.6 1060.5,250.0 1067.5,242.6 1074.5,236.9 1081.5,230.8 1088.5,228.1 1095.5,226.5 1102.5,225.1 1109.5,222.7 1116.5,221.0 1123.5,220.9 1130.5,218.0 1137.5,215.8 1144.5,214.1 1151.5,212.9 1158.5,213.3 1165.5,212.6 1172.5,212.5 1179.5,212.3 1186.5,211.7 1193.5,210.3 1200.5,206.7 1207.5,203.6 1214.5,200.9 1221.5,198.9 1228.5,197.0 1235.5,194.6 1242.5,192.5 1249.5,189.9 1256.5,186.9 1263.5,186.0 1270.5,184.6 1277.5,182.8 1284.5,180.5 1291.5,178.1 1298.5,175.1 1305.5,171.7 1312.5,167.5 1319.5,162.1 1326.5,175.0 1333.5,180.6 1340.5,190.1 1347.5,202.0 1354.5,210.9 1361.5,218.5 1368.5,226.2 1375.5,238.0 1382.5,245.4 1389.5,253.6 1396.5,260.7 1403.5,267.0 1410.5,271.1 1417.5,273.8 1424.5,278.1 1431.5,285.9 1438.5,290.5 1445.5,294.8 1452.5,297.4 1459.5,298.2 1466.5,296.3 1473.5,294.7 1480.5,297.0 1487.5,303.8 1494.5,309.9 1501.5,316.4 1508.5,322.8 1515.5,333.7 1522.5,346.3 1529.5,362.0" fill="none" stroke="#e02c3c" stroke-width="1.2" stroke-linejoin="round"/>
<polyline points="10.5,615.2 17.5,611.4 24.5,608.3 31.5,604.1 38.5,595.8 45.5,590.7 52.5,583.9 59.5,572.7 66.5,565.2 73.5,562.3 80.5,560.7 87.5,560.9 94.5,561.2 101.5,561.4 108.5,561.6 115.5,560.1 122.5,559.8 129.5,560.3 136.5,562.3 143.5,569.8 150.5,574.2 157.5,577.0 164.5,581.8 171.5,586.5 178.5,588.7 185.5,589.6 192.5,587.2 199.5,578.7 206.5,567.8 213.5,556.2 220.5,549.4 227.5,544.5 234.5,539.7 241.5,530.9 248.5,526.9 255.5,522.8 262.5,517.8 269.5,504.8 276.5,489.3 283.5,475.9 290.5,470.5 297.5,464.5 304.5,456.3 311.5,451.2 318.5,447.9 325.5,443.6 332.5,436.0 339.5,433.0 346.5,429.0 353.5,429.7 360.5,432.8 367.5,440.1 374.5,442.9 381.5,447.7 388.5,451.5 395.5,457.1 402.5,457.7 409.5,458.2 416.5,457.0 423.5,456.0 430.5,455.1 437.5,453.5 444.5,457.2 451.5,460.9 458.5,464.8 465.5,467.3 472.5,470.1 479.5,469.9 486.5,469.8 493.5,469.8 500.5,470.4 507.5,464.4 514.5,457.1 521.5,447.2 528.5,440.7 535.5,440.9 542.5,446.8 549.5,448.5 556.5,455.4 563.5,468.5 570.5,480.0 577.5,486.9 584.5,495.1 591.5,499.3 598.5,506.1 605.5,513.0 612.5,515.6 619.5,516.9 626.5,518.8 633.5,518.7 640.5,515.4 647.5,513.5 654.5,514.4 661.5,515.9 668.5,516.3 675.5,498.0 682.5,470.8 689.5,453.4 696.5,436.7 703.5,418.3 710.5,414.5 717.5,395.2 724.5,388.3 731.5,387.6 738.5,377.2 745.5,366.3 752.5,354.9 759.5,342.4 766.5,334.6 773.5,327.4 780.5,319.1 787.5,311.5 794.5,309.3 801.5,310.8 808.5,316.9 815.5,327.5 822.5,333.7 829.5,341.3 836.5,352.4 843.5,361.5 850.5,368.0 857.5,369.4 864.5,360.6 871.5,355.1 878.5,348.3 885.5,345.0 892.5,342.4 899.5,338.6 906.5,345.3 913.5,345.0 920.5,337.5 927.5,324.9 934.5,313.0 941.5,303.2 948.5,292.7 955.5,282.5 962.5,280.7 969.5,279.2 976.5,280.5 983.5,270.1 990.5,256.0 997.5,254.0 1004.5,253.3 1011.5,251.1 1018.5,244.5 1025.5,235.0 1032.5,219.1 1039.5,210.9 1046.5,191.4 1053.5,180.1 1060.5,170.2 1067.5,161.1 1074.5,157.9 1081.5,152.6 1088.5,158.2 1095.5,166.1 1102.5,172.5 1109.5,174.5 1116.5,177.7 1123.5,185.3 1130.5,182.6 1137.5,181.8 1144.5,182.9 1151.5,184.6 1158.5,190.9 1165.5,192.8 1172.5,196.0 1179.5,198.6 1186.5,199.1 1193.5,196.9 1200.5,187.9 1207.5,181.5 1214.5,176.9 1221.5,174.8 1228.5,173.1 1235.5,170.1 1242.5,167.6 1249.5,163.9 1256.5,159.3 1263.5,161.3 1270.5,161.3 1277.5,159.7 1284.5,156.7 1291.5,153.4 1298.5,148.3 1305.5,142.5 1312.5,134.5 1319.5,123.0 1326.5,171.3 1333.5,189.7 1340.5,218.5 1347.5,251.0 1354.5,270.4 1361.5,283.8 1368.5,296.5 1375.5,321.4 1382.5,329.6 1389.5,340.3 1396.5,347.4 1403.5,351.6 1410.5,349.4 1417.5,343.5 1424.5,344.4 1431.5,357.3 1438.5,359.0 1445.5,360.3 1452.5,356.5 1459.5,348.5 1466.5,333.0 1473.5,321.3 1480.5,323.8 1487.5,340.5 1494.5,353.4 1501.5,366.3 1508.5,377.6 1515.5,402.3 1522.5,429.8 1529.5,464.4" fill="none" stroke="#2a6a2a" stroke-width="1.1" stroke-linejoin="round"/>
<path d="M953.8,189.7 H957.2 V199.0 H960.3 L955.5,204.2 L950.7,199.0 H953.8 Z" fill="#ff1cf0"/>
<path d="M974.8,243 H978.2 V252.2 H981.3 L976.5,257.4 L971.7,252.2 H974.8 Z" fill="#ff1cf0"/>
<path d="M955.2,232.5 L960.5,228 V237 Z" fill="#ff1cf0"/>
<path d="M977.2,295.8 L982,291.5 V300.1 Z" fill="#ff1cf0"/>
<path d="M915.4,295.4 L920,299.7 L915.4,304 Z" fill="#1010e8"/>
<path d="M920.5,350 L924.7,355.5 H922.3 V364 H918.7 V355.5 H916.3 Z" fill="#1010ff"/>
<text x="821.5" y="211.7" class="an" textLength="100">puv 1.PT snizeny</text>
<text x="989.5" y="132.8" class="an" textLength="28">2.PT</text>
<text x="960.5" y="341.7" class="an" textLength="73">out na BE+1</text>
<text x="884" y="410.7" class="an" textLength="86.5">odmitnuti ceny</text>
<text x="1191" y="477.6" class="an" textLength="271">po prekvapivem reportu je trh uz moc volatilni</text>
<g class="cr">
<rect x="9.0" y="781" width="2" height="2.5" fill="#0a640a"/>
<rect x="16.0" y="780" width="2" height="3.5" fill="#0a640a"/>
<rect x="23.0" y="770" width="2" height="13.5" fill="#0a640a"/>
<rect x="30.0" y="780" width="2" height="3.5" fill="#0a640a"/>
<rect x="37.0" y="780" width="2" height="3.5" fill="#0a640a"/>
<rect x="44.0" y="781" width="2" height="2.5" fill="#d00808"/>
<rect x="51.0" y="781" width="2" height="2.5" fill="#0a640a"/>
<rect x="58.0" y="780" width="2" height="3.5" fill="#0a640a"/>
<rect x="65.0" y="778" width="2" height="5.5" fill="#d00808"/>
<rect x="72.0" y="778" width="2" height="5.5" fill="#d00808"/>
<rect x="79.0" y="780" width="2" height="3.5" fill="#d00808"/>
<rect x="86.0" y="781" width="2" height="2.5" fill="#0a640a"/>
<rect x="93.0" y="781" width="2" height="2.5" fill="#0a640a"/>
<rect x="100.0" y="781" width="2" height="2.5" fill="#0a640a"/>
<rect x="107.0" y="781" width="2" height="2.5" fill="#0a640a"/>
<rect x="114.0" y="781" width="2" height="2.5" fill="#0a640a"/>
<rect x="121.0" y="781" width="2" height="2.5" fill="#d00808"/>
<rect x="128.0" y="781" width="2" height="2.5" fill="#d00808"/>
<rect x="135.0" y="781" width="2" height="2.5" fill="#d00808"/>
<rect x="142.0" y="777" width="2" height="6.5" fill="#d00808"/>
<rect x="149.0" y="781" width="2" height="2.5" fill="#0a640a"/>
<rect x="156.0" y="781" width="2" height="2.5" fill="#0a640a"/>
<rect x="163.0" y="781" width="2" height="2.5" fill="#d00808"/>
<rect x="170.0" y="781" width="2" height="2.5" fill="#d00808"/>
<rect x="177.0" y="781" width="2" height="2.5" fill="#0a640a"/>
<rect x="184.0" y="781" width="2" height="2.5" fill="#0a640a"/>
<rect x="191.0" y="780" width="2" height="3.5" fill="#0a640a"/>
<rect x="198.0" y="779" width="2" height="4.5" fill="#0a640a"/>
<rect x="205.0" y="779" width="2" height="4.5" fill="#0a640a"/>
<rect x="212.0" y="780" width="2" height="3.5" fill="#0a640a"/>
<rect x="219.0" y="780" width="2" height="3.5" fill="#d00808"/>
<rect x="226.0" y="780" width="2" height="3.5" fill="#d00808"/>
<rect x="233.0" y="781" width="2" height="2.5" fill="#0a640a"/>
<rect x="240.0" y="780" width="2" height="3.5" fill="#0a640a"/>
<rect x="247.0" y="780" width="2" height="3.5" fill="#d00808"/>
<rect x="254.0" y="780" width="2" height="3.5" fill="#0a640a"/>
<rect x="261.0" y="780" width="2" height="3.5" fill="#0a640a"/>
<rect x="268.0" y="770" width="2" height="13.5" fill="#0a640a"/>
<rect x="275.0" y="776" width="2" height="7.5" fill="#0a640a"/>
<rect x="282.0" y="776" width="2" height="7.5" fill="#0a640a"/>
<rect x="289.0" y="779" width="2" height="4.5" fill="#d00808"/>
<rect x="296.0" y="781" width="2" height="2.5" fill="#0a640a"/>
<rect x="303.0" y="777" width="2" height="6.5" fill="#0a640a"/>
<rect x="310.0" y="777" width="2" height="6.5" fill="#d00808"/>
<rect x="317.0" y="777" width="2" height="6.5" fill="#d00808"/>
<rect x="324.0" y="778" width="2" height="5.5" fill="#0a640a"/>
<rect x="331.0" y="776" width="2" height="7.5" fill="#0a640a"/>
<rect x="338.0" y="780" width="2" height="3.5" fill="#d00808"/>
<rect x="345.0" y="781" width="2" height="2.5" fill="#0a640a"/>
<rect x="352.0" y="777" width="2" height="6.5" fill="#d00808"/>
<rect x="359.0" y="779" width="2" height="4.5" fill="#d00808"/>
<rect x="366.0" y="778" width="2" height="5.5" fill="#d00808"/>
<rect x="373.0" y="779" width="2" height="4.5" fill="#0a640a"/>
<rect x="380.0" y="779" width="2" height="4.5" fill="#d00808"/>
<rect x="387.0" y="780" width="2" height="3.5" fill="#0a640a"/>
<rect x="394.0" y="781" width="2" height="2.5" fill="#d00808"/>
<rect x="401.0" y="779" width="2" height="4.5" fill="#0a640a"/>
<rect x="408.0" y="778" width="2" height="5.5" fill="#0a640a"/>
<rect x="415.0" y="779" width="2" height="4.5" fill="#0a640a"/>
<rect x="422.0" y="779" width="2" height="4.5" fill="#0a640a"/>
<rect x="429.0" y="780" width="2" height="3.5" fill="#d00808"/>
<rect x="436.0" y="781" width="2" height="2.5" fill="#0a640a"/>
<rect x="443.0" y="781" width="2" height="2.5" fill="#d00808"/>
<rect x="450.0" y="780" width="2" height="3.5" fill="#d00808"/>
<rect x="457.0" y="779" width="2" height="4.5" fill="#d00808"/>
<rect x="464.0" y="782" width="2" height="1.5" fill="#0a640a"/>
<rect x="471.0" y="781" width="2" height="2.5" fill="#d00808"/>
<rect x="478.0" y="781" width="2" height="2.5" fill="#0a640a"/>
<rect x="485.0" y="775" width="2" height="8.5" fill="#0a640a"/>
<rect x="492.0" y="779" width="2" height="4.5" fill="#d00808"/>
<rect x="499.0" y="779" width="2" height="4.5" fill="#0a640a"/>
<rect x="506.0" y="778" width="2" height="5.5" fill="#0a640a"/>
<rect x="513.0" y="768" width="2" height="15.5" fill="#0a640a"/>
<rect x="520.0" y="779" width="2" height="4.5" fill="#0a640a"/>
<rect x="527.0" y="777" width="2" height="6.5" fill="#d00808"/>
<rect x="534.0" y="773" width="2" height="10.5" fill="#d00808"/>
<rect x="541.0" y="774" width="2" height="9.5" fill="#d00808"/>
<rect x="548.0" y="780" width="2" height="3.5" fill="#0a640a"/>
<rect x="555.0" y="780" width="2" height="3.5" fill="#d00808"/>
<rect x="562.0" y="771" width="2" height="12.5" fill="#d00808"/>
<rect x="569.0" y="777" width="2" height="6.5" fill="#d00808"/>
<rect x="576.0" y="776" width="2" height="7.5" fill="#0a640a"/>
<rect x="583.0" y="777" width="2" height="6.5" fill="#d00808"/>
<rect x="590.0" y="778" width="2" height="5.5" fill="#0a640a"/>
<rect x="597.0" y="779" width="2" height="4.5" fill="#d00808"/>
<rect x="604.0" y="778" width="2" height="5.5" fill="#d00808"/>
<rect x="611.0" y="776" width="2" height="7.5" fill="#0a640a"/>
<rect x="618.0" y="780" width="2" height="3.5" fill="#d00808"/>
<rect x="625.0" y="781" width="2" height="2.5" fill="#d00808"/>
<rect x="632.0" y="780" width="2" height="3.5" fill="#0a640a"/>
<rect x="639.0" y="777" width="2" height="6.5" fill="#0a640a"/>
<rect x="646.0" y="777" width="2" height="6.5" fill="#0a640a"/>
<rect x="653.0" y="778" width="2" height="5.5" fill="#d00808"/>
<rect x="660.0" y="778" width="2" height="5.5" fill="#d00808"/>
<rect x="667.0" y="779" width="2" height="4.5" fill="#0a640a"/>
<rect x="674.0" y="774" width="2" height="9.5" fill="#0a640a"/>
<rect x="681.0" y="760" width="2" height="23.5" fill="#0a640a"/>
<rect x="688.0" y="773" width="2" height="10.5" fill="#d00808"/>
<rect x="695.0" y="764" width="2" height="19.5" fill="#0a640a"/>
<rect x="702.0" y="767" width="2" height="16.5" fill="#0a640a"/>
<rect x="709.0" y="766" width="2" height="17.5" fill="#d00808"/>
<rect x="716.0" y="759" width="2" height="24.5" fill="#0a640a"/>
<rect x="723.0" y="767" width="2" height="16.5" fill="#d00808"/>
<rect x="730.0" y="761" width="2" height="22.5" fill="#d00808"/>
<rect x="737.0" y="758" width="2" height="25.5" fill="#0a640a"/>
<rect x="744.0" y="768" width="2" height="15.5" fill="#0a640a"/>
<rect x="751.0" y="745" width="2" height="38.5" fill="#0a640a"/>
<rect x="758.0" y="767" width="2" height="16.5" fill="#0a640a"/>
<rect x="765.0" y="772" width="2" height="11.5" fill="#d00808"/>
<rect x="772.0" y="765" width="2" height="18.5" fill="#0a640a"/>
<rect x="779.0" y="777" width="2" height="6.5" fill="#0a640a"/>
<rect x="786.0" y="774" width="2" height="9.5" fill="#0a640a"/>
<rect x="793.0" y="778" width="2" height="5.5" fill="#d00808"/>
<rect x="800.0" y="772" width="2" height="11.5" fill="#d00808"/>
<rect x="807.0" y="776" width="2" height="7.5" fill="#d00808"/>
<rect x="814.0" y="778" width="2" height="5.5" fill="#d00808"/>
<rect x="821.0" y="775" width="2" height="8.5" fill="#0a640a"/>
<rect x="828.0" y="776" width="2" height="7.5" fill="#d00808"/>
<rect x="835.0" y="779" width="2" height="4.5" fill="#d00808"/>
<rect x="842.0" y="776" width="2" height="7.5" fill="#0a640a"/>
<rect x="849.0" y="781" width="2" height="2.5" fill="#0a640a"/>
<rect x="856.0" y="778" width="2" height="5.5" fill="#0a640a"/>
<rect x="863.0" y="772" width="2" height="11.5" fill="#0a640a"/>
<rect x="870.0" y="774" width="2" height="9.5" fill="#d00808"/>
<rect x="877.0" y="773" width="2" height="10.5" fill="#0a640a"/>
<rect x="884.0" y="775" width="2" height="8.5" fill="#d00808"/>
<rect x="891.0" y="766" width="2" height="17.5" fill="#0a640a"/>
<rect x="898.0" y="778" width="2" height="5.5" fill="#0a640a"/>
<rect x="905.0" y="766" width="2" height="17.5" fill="#d00808"/>
<rect x="912.0" y="760" width="2" height="23.5" fill="#0a640a"/>
<rect x="919.0" y="772" width="2" height="11.5" fill="#0a640a"/>
<rect x="926.0" y="727" width="2" height="56.5" fill="#0a640a"/>
<rect x="933.0" y="766" width="2" height="17.5" fill="#0a640a"/>
<rect x="940.0" y="770" width="2" height="13.5" fill="#0a640a"/>
<rect x="947.0" y="755" width="2" height="28.5" fill="#0a640a"/>
<rect x="954.0" y="759" width="2" height="24.5" fill="#0a640a"/>
<rect x="961.0" y="765" width="2" height="18.5" fill="#d00808"/>
<rect x="968.0" y="743" width="2" height="40.5" fill="#d00808"/>
<rect x="975.0" y="767" width="2" height="16.5" fill="#d00808"/>
<rect x="982.0" y="767" width="2" height="16.5" fill="#0a640a"/>
<rect x="989.0" y="757" width="2" height="26.5" fill="#0a640a"/>
<rect x="996.0" y="769" width="2" height="14.5" fill="#d00808"/>
<rect x="1003.0" y="768" width="2" height="15.5" fill="#0a640a"/>
<rect x="1010.0" y="771" width="2" height="12.5" fill="#0a640a"/>
<rect x="1017.0" y="765" width="2" height="18.5" fill="#0a640a"/>
<rect x="1024.0" y="769" width="2" height="14.5" fill="#0a640a"/>
<rect x="1031.0" y="754" width="2" height="29.5" fill="#0a640a"/>
<rect x="1038.0" y="772" width="2" height="11.5" fill="#d00808"/>
<rect x="1045.0" y="764" width="2" height="19.5" fill="#0a640a"/>
<rect x="1052.0" y="764" width="2" height="19.5" fill="#d00808"/>
<rect x="1059.0" y="770" width="2" height="13.5" fill="#0a640a"/>
<rect x="1066.0" y="755" width="2" height="28.5" fill="#0a640a"/>
<rect x="1073.0" y="772" width="2" height="11.5" fill="#d00808"/>
<rect x="1080.0" y="768" width="2" height="15.5" fill="#0a640a"/>
<rect x="1087.0" y="774" width="2" height="9.5" fill="#d00808"/>
<rect x="1094.0" y="771" width="2" height="12.5" fill="#d00808"/>
<rect x="1101.0" y="753" width="2" height="30.5" fill="#0a640a"/>
<rect x="1108.0" y="770" width="2" height="13.5" fill="#0a640a"/>
<rect x="1115.0" y="774" width="2" height="9.5" fill="#d00808"/>
<rect x="1122.0" y="771" width="2" height="12.5" fill="#d00808"/>
<rect x="1129.0" y="777" width="2" height="6.5" fill="#0a640a"/>
<rect x="1136.0" y="772" width="2" height="11.5" fill="#d00808"/>
<rect x="1143.0" y="776" width="2" height="7.5" fill="#d00808"/>
<rect x="1150.0" y="774" width="2" height="9.5" fill="#d00808"/>
<rect x="1157.0" y="777" width="2" height="6.5" fill="#d00808"/>
<rect x="1164.0" y="773" width="2" height="10.5" fill="#0a640a"/>
<rect x="1171.0" y="778" width="2" height="5.5" fill="#d00808"/>
<rect x="1178.0" y="780" width="2" height="3.5" fill="#0a640a"/>
<rect x="1185.0" y="776" width="2" height="7.5" fill="#0a640a"/>
<rect x="1192.0" y="777" width="2" height="6.5" fill="#0a640a"/>
<rect x="1199.0" y="774" width="2" height="9.5" fill="#0a640a"/>
<rect x="1206.0" y="776" width="2" height="7.5" fill="#d00808"/>
<rect x="1213.0" y="773" width="2" height="10.5" fill="#d00808"/>
<rect x="1220.0" y="772" width="2" height="11.5" fill="#d00808"/>
<rect x="1227.0" y="778" width="2" height="5.5" fill="#0a640a"/>
<rect x="1234.0" y="779" width="2" height="4.5" fill="#0a640a"/>
<rect x="1241.0" y="776" width="2" height="7.5" fill="#0a640a"/>
<rect x="1248.0" y="777" width="2" height="6.5" fill="#0a640a"/>
<rect x="1255.0" y="780" width="2" height="3.5" fill="#0a640a"/>
<rect x="1262.0" y="769" width="2" height="14.5" fill="#d00808"/>
<rect x="1269.0" y="776" width="2" height="7.5" fill="#0a640a"/>
<rect x="1276.0" y="779" width="2" height="4.5" fill="#0a640a"/>
<rect x="1283.0" y="776" width="2" height="7.5" fill="#0a640a"/>
<rect x="1290.0" y="778" width="2" height="5.5" fill="#0a640a"/>
<rect x="1297.0" y="776" width="2" height="7.5" fill="#0a640a"/>
<rect x="1304.0" y="764" width="2" height="19.5" fill="#0a640a"/>
<rect x="1311.0" y="772" width="2" height="11.5" fill="#0a640a"/>
<rect x="1318.0" y="777" width="2" height="6.5" fill="#0a640a"/>
<rect x="1325.0" y="698" width="2" height="85.5" fill="#d00808"/>
<rect x="1332.0" y="753" width="2" height="30.5" fill="#0a640a"/>
<rect x="1339.0" y="762" width="2" height="21.5" fill="#d00808"/>
<rect x="1346.0" y="769" width="2" height="14.5" fill="#d00808"/>
<rect x="1353.0" y="764" width="2" height="19.5" fill="#0a640a"/>
<rect x="1360.0" y="763" width="2" height="20.5" fill="#0a640a"/>
<rect x="1367.0" y="764" width="2" height="19.5" fill="#d00808"/>
<rect x="1374.0" y="761" width="2" height="22.5" fill="#d00808"/>
<rect x="1381.0" y="765" width="2" height="18.5" fill="#0a640a"/>
<rect x="1388.0" y="771" width="2" height="12.5" fill="#d00808"/>
<rect x="1395.0" y="763" width="2" height="20.5" fill="#0a640a"/>
<rect x="1402.0" y="768" width="2" height="15.5" fill="#0a640a"/>
<rect x="1409.0" y="767" width="2" height="16.5" fill="#0a640a"/>
<rect x="1416.0" y="769" width="2" height="14.5" fill="#0a640a"/>
<rect x="1423.0" y="747" width="2" height="36.5" fill="#a81414"/>
<rect x="1430.0" y="746" width="2" height="37.5" fill="#a81414"/>
<rect x="1437.0" y="777" width="2" height="6.5" fill="#0a640a"/>
<rect x="1444.0" y="776" width="2" height="7.5" fill="#d00808"/>
<rect x="1451.0" y="771" width="2" height="12.5" fill="#0a640a"/>
<rect x="1458.0" y="777" width="2" height="6.5" fill="#0a640a"/>
<rect x="1465.0" y="767" width="2" height="16.5" fill="#0a640a"/>
<rect x="1472.0" y="769" width="2" height="14.5" fill="#0a640a"/>
<rect x="1479.0" y="743" width="2" height="40.5" fill="#a81414"/>
<rect x="1486.0" y="751" width="2" height="32.5" fill="#d00808"/>
<rect x="1493.0" y="767" width="2" height="16.5" fill="#0a640a"/>
<rect x="1500.0" y="771" width="2" height="12.5" fill="#d00808"/>
<rect x="1507.0" y="752" width="2" height="31.5" fill="#a81414"/>
<rect x="1514.0" y="762" width="2" height="21.5" fill="#d00808"/>
<rect x="1521.0" y="759" width="2" height="24.5" fill="#a81414"/>
<rect x="1528.0" y="763" width="2" height="20.5" fill="#d00808"/>
</g>
<polyline points="10.5,781.2 17.5,780.9 24.5,777.9 31.5,778.5 38.5,779.0 45.5,779.6 52.5,780.1 59.5,780.1 66.5,779.6 73.5,779.2 80.5,779.5 87.5,780.0 94.5,780.3 101.5,780.7 108.5,781.0 115.5,781.2 122.5,781.3 129.5,781.3 136.5,781.3 143.5,780.1 150.5,780.4 157.5,780.6 164.5,780.8 171.5,780.9 178.5,781.1 185.5,781.2 192.5,780.9 199.5,780.4 206.5,780.1 213.5,780.1 220.5,780.1 227.5,780.1 234.5,780.4 241.5,780.4 248.5,780.2 255.5,780.2 262.5,780.1 269.5,777.2 276.5,776.9 283.5,776.6 290.5,777.2 297.5,778.4 304.5,777.9 311.5,777.6 318.5,777.4 325.5,777.5 332.5,777.0 339.5,777.8 346.5,778.8 353.5,778.2 360.5,778.4 367.5,778.2 374.5,778.4 381.5,778.5 388.5,779.0 395.5,779.5 402.5,779.4 409.5,779.0 416.5,779.0 423.5,779.1 430.5,779.4 437.5,779.8 444.5,780.1 451.5,780.1 458.5,779.9 465.5,780.4 472.5,780.5 479.5,780.6 486.5,778.9 493.5,779.0 500.5,779.1 507.5,778.7 514.5,775.6 521.5,776.5 528.5,776.7 535.5,775.6 542.5,775.1 549.5,776.4 556.5,777.4 563.5,775.5 570.5,775.9 577.5,775.9 584.5,776.2 591.5,776.7 598.5,777.3 605.5,777.4 612.5,777.0 619.5,777.8 626.5,778.6 633.5,779.0 640.5,778.5 647.5,778.0 654.5,777.9 661.5,777.9 668.5,778.2 675.5,776.9 682.5,772.0 689.5,772.2 696.5,769.8 703.5,769.0 710.5,768.1 717.5,765.4 724.5,765.8 731.5,764.4 738.5,762.5 745.5,764.0 752.5,758.5 759.5,760.9 766.5,764.0 773.5,764.2 780.5,767.8 787.5,769.5 794.5,771.9 801.5,772.0 808.5,773.1 815.5,774.5 822.5,774.7 829.5,775.0 836.5,776.1 843.5,776.0 850.5,777.4 857.5,777.6 864.5,775.9 871.5,775.3 878.5,774.6 885.5,774.8 892.5,772.2 899.5,773.8 906.5,771.5 913.5,768.2 920.5,769.2 927.5,757.1 934.5,759.6 941.5,762.5 948.5,760.3 955.5,759.9 962.5,761.3 969.5,756.0 976.5,759.1 983.5,761.3 990.5,760.0 997.5,762.5 1004.5,764.0 1011.5,766.0 1018.5,765.6 1025.5,766.5 1032.5,762.9 1039.5,765.4 1046.5,765.0 1053.5,764.6 1060.5,766.1 1067.5,762.9 1074.5,765.4 1081.5,766.1 1088.5,768.3 1095.5,769.0 1102.5,764.4 1109.5,765.9 1116.5,768.2 1123.5,768.9 1130.5,771.2 1137.5,771.4 1144.5,772.6 1151.5,773.0 1158.5,774.1 1165.5,773.7 1172.5,774.9 1179.5,776.3 1186.5,776.1 1193.5,776.3 1200.5,775.6 1207.5,775.7 1214.5,774.8 1221.5,774.0 1228.5,775.1 1235.5,776.1 1242.5,776.0 1249.5,776.3 1256.5,777.3 1263.5,774.8 1270.5,775.1 1277.5,776.2 1284.5,776.1 1291.5,776.6 1298.5,776.3 1305.5,772.8 1312.5,772.5 1319.5,773.7 1326.5,752.0 1333.5,752.2 1340.5,755.0 1347.5,758.9 1354.5,760.3 1361.5,761.0 1368.5,761.8 1375.5,761.5 1382.5,762.5 1389.5,764.8 1396.5,764.3 1403.5,765.3 1410.5,765.7 1417.5,766.6 1424.5,760.9 1431.5,756.6 1438.5,762.4 1445.5,766.2 1452.5,767.5 1459.5,770.2 1466.5,769.2 1473.5,769.1 1480.5,761.7 1487.5,758.8 1494.5,761.3 1501.5,764.3 1508.5,761.0 1515.5,761.3 1522.5,760.8 1529.5,761.4" fill="none" stroke="#222" stroke-width="1.1"/>
<text x="3.5" y="710" class="lb" textLength="313.5">VolumeUpDown(CL 09-11 (1 Min)), VOLMA(CL 09-11 (1 Min),6)</text>
<text x="3" y="786" class="lb" textLength="124">© 2011 NinjaTrader, LLC</text>
<g class="cr" stroke="#000" stroke-width="1" fill="none">
<line x1="0" x2="1600" y1="27.5" y2="27.5"/>
<line x1="0.5" x2="0.5" y1="27" y2="835"/>
<line x1="1599.5" x2="1599.5" y1="27" y2="835"/>
<line x1="0" x2="1600" y1="834.5" y2="834.5"/>
<line x1="0" x2="1600" y1="688.5" y2="688.5"/>
<line x1="1543.5" x2="1543.5" y1="32" y2="790"/>
<line x1="0" x2="1543.5" y1="789.5" y2="789.5"/>
<line x1="1543.5" x2="1550" y1="62.5" y2="62.5"/>
<line x1="1543.5" x2="1550" y1="107.5" y2="107.5"/>
<line x1="1543.5" x2="1550" y1="152.5" y2="152.5"/>
<line x1="1543.5" x2="1550" y1="197.5" y2="197.5"/>
<line x1="1543.5" x2="1550" y1="241.5" y2="241.5"/>
<line x1="1543.5" x2="1550" y1="286.5" y2="286.5"/>
<line x1="1543.5" x2="1550" y1="330.5" y2="330.5"/>
<line x1="1543.5" x2="1550" y1="375.5" y2="375.5"/>
<line x1="1543.5" x2="1550" y1="420.5" y2="420.5"/>
<line x1="1543.5" x2="1550" y1="464.5" y2="464.5"/>
<line x1="1543.5" x2="1550" y1="509.5" y2="509.5"/>
<line x1="1543.5" x2="1550" y1="553.5" y2="553.5"/>
<line x1="1543.5" x2="1550" y1="598.5" y2="598.5"/>
<line x1="1543.5" x2="1550" y1="643.5" y2="643.5"/>
<line x1="1543.5" x2="1550" y1="783.5" y2="783.5"/>
<line x1="1543.5" x2="1550" y1="751.5" y2="751.5"/>
<line x1="1543.5" x2="1550" y1="719.5" y2="719.5"/>
<line x1="59.5" x2="59.5" y1="789" y2="794"/>
<line x1="129.5" x2="129.5" y1="789" y2="794"/>
<line x1="199.5" x2="199.5" y1="789" y2="794"/>
<line x1="269.5" x2="269.5" y1="789" y2="794"/>
<line x1="339.5" x2="339.5" y1="789" y2="794"/>
<line x1="409.5" x2="409.5" y1="789" y2="794"/>
<line x1="479.5" x2="479.5" y1="789" y2="794"/>
<line x1="549.5" x2="549.5" y1="789" y2="794"/>
<line x1="619.5" x2="619.5" y1="789" y2="794"/>
<line x1="689.5" x2="689.5" y1="789" y2="794"/>
<line x1="759.5" x2="759.5" y1="789" y2="794"/>
<line x1="829.5" x2="829.5" y1="789" y2="794"/>
<line x1="899.5" x2="899.5" y1="789" y2="794"/>
<line x1="969.5" x2="969.5" y1="789" y2="794"/>
<line x1="1039.5" x2="1039.5" y1="789" y2="794"/>
<line x1="1109.5" x2="1109.5" y1="789" y2="794"/>
<line x1="1179.5" x2="1179.5" y1="789" y2="794"/>
<line x1="1249.5" x2="1249.5" y1="789" y2="794"/>
<line x1="1319.5" x2="1319.5" y1="789" y2="794"/>
<line x1="1389.5" x2="1389.5" y1="789" y2="794"/>
<line x1="1459.5" x2="1459.5" y1="789" y2="794"/>
<line x1="1529.5" x2="1529.5" y1="789" y2="794"/>
</g>
<text x="1551" y="66.6" class="ax">89,00</text>
<text x="1551" y="111.6" class="ax">88,90</text>
<text x="1551" y="156.6" class="ax">88,80</text>
<text x="1551" y="201.6" class="ax">88,70</text>
<text x="1551" y="245.6" class="ax">88,60</text>
<text x="1551" y="290.6" class="ax">88,50</text>
<text x="1551" y="334.6" class="ax">88,40</text>
<text x="1551" y="379.6" class="ax">88,30</text>
<text x="1551" y="424.6" class="ax">88,20</text>
<text x="1551" y="468.6" class="ax">88,10</text>
<text x="1551" y="513.6" class="ax">88,00</text>
<text x="1551" y="557.6" class="ax">87,90</text>
<text x="1551" y="602.6" class="ax">87,80</text>
<text x="1551" y="647.6" class="ax">87,70</text>
<text x="1551" y="787.5" class="ax">0</text>
<text x="1551" y="755.5" class="ax">2000</text>
<text x="1551" y="723.5" class="ax">4000</text>
<text x="45.6" y="805.6" textLength="26.2" class="ax">13:30</text>
<text x="115.6" y="805.6" textLength="26.2" class="ax">13:40</text>
<text x="185.6" y="805.6" textLength="26.2" class="ax">13:50</text>
<text x="255.6" y="805.6" textLength="26.2" class="ax">14:00</text>
<text x="325.6" y="805.6" textLength="26.2" class="ax">14:10</text>
<text x="395.6" y="805.6" textLength="26.2" class="ax">14:20</text>
<text x="465.6" y="805.6" textLength="26.2" class="ax">14:30</text>
<text x="535.6" y="805.6" textLength="26.2" class="ax">14:40</text>
<text x="605.6" y="805.6" textLength="26.2" class="ax">14:50</text>
<text x="675.6" y="805.6" textLength="26.2" class="ax">15:00</text>
<text x="745.6" y="805.6" textLength="26.2" class="ax">15:10</text>
<text x="815.6" y="805.6" textLength="26.2" class="ax">15:20</text>
<text x="885.6" y="805.6" textLength="26.2" class="ax">15:30</text>
<text x="955.6" y="805.6" textLength="26.2" class="ax">15:40</text>
<text x="1025.6" y="805.6" textLength="26.2" class="ax">15:50</text>
<text x="1095.6" y="805.6" textLength="26.2" class="ax">16:00</text>
<text x="1165.6" y="805.6" textLength="26.2" class="ax">16:10</text>
<text x="1235.6" y="805.6" textLength="26.2" class="ax">16:20</text>
<text x="1305.6" y="805.6" textLength="26.2" class="ax">16:30</text>
<text x="1375.6" y="805.6" textLength="26.2" class="ax">16:40</text>
<text x="1445.6" y="805.6" textLength="26.2" class="ax">16:50</text>
<text x="1515.6" y="805.6" textLength="26.2" class="ax">17:00</text>
<path d="M1544,619.8 L1550.5,613 H1581 V626.7 H1550.5 Z" fill="#000"/>
<text x="1552.4" y="623.8" class="ax" style="fill:#fff" textLength="27">87,75</text>
<path d="M1544,762.8 L1550.5,756 H1577 V769.8 H1550.5 Z" fill="#d60a12"/><path d="M1550.5,769.3 H1576.5 V756" fill="none" stroke="#9a0008" stroke-width="1"/>
<text x="1552.6" y="767" class="ax" style="fill:#fff">1285</text>
<path d="M1513.5,37.5 L1528.5,47.5 L1513.5,57.5 Z" fill="none" stroke="#000" stroke-width="1.2"/>
<rect x="1530.5" y="37.5" width="3" height="20" fill="none" stroke="#000" stroke-width="1.2"/>
</svg></body></html>
